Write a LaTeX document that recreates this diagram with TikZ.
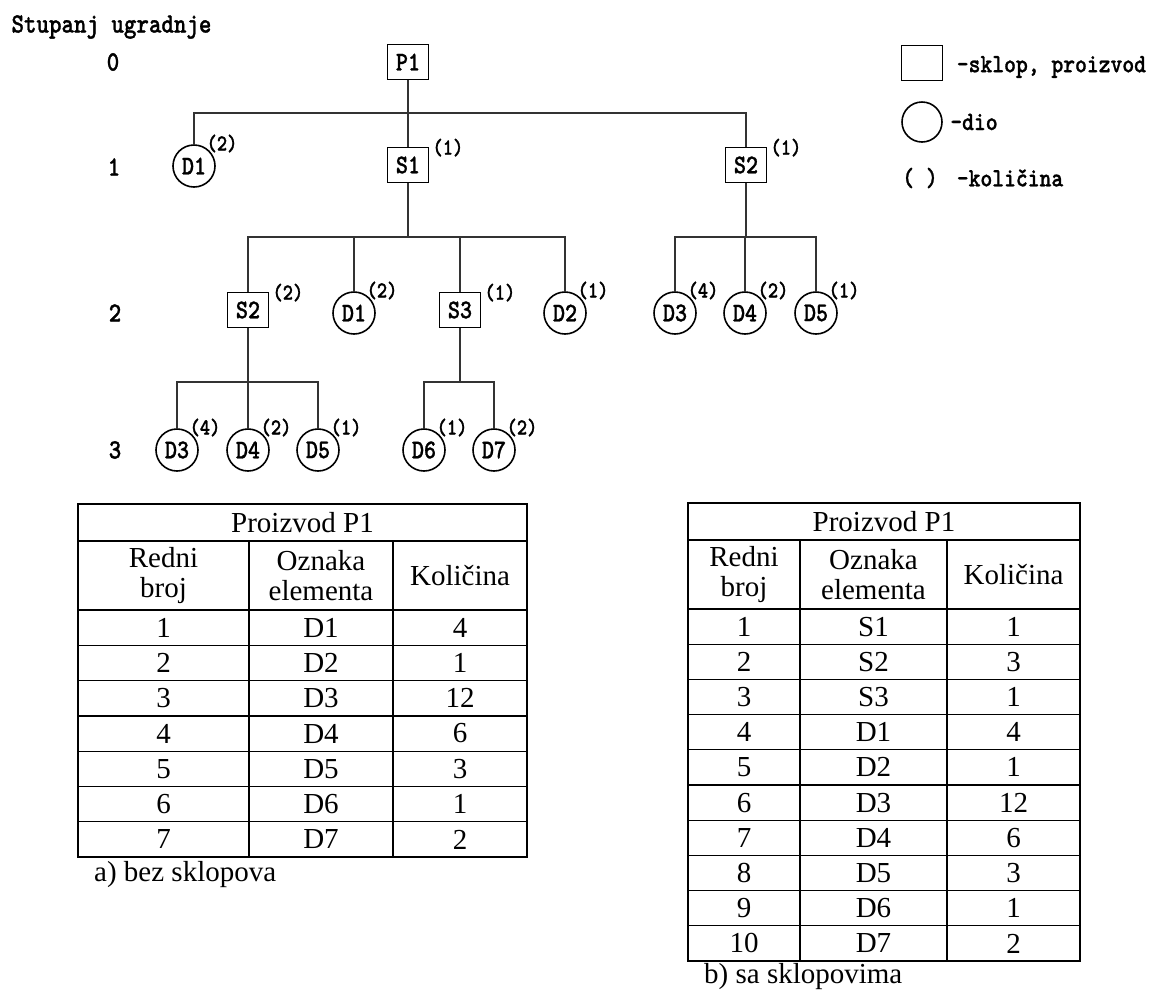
\documentclass[tikz,border=0pt]{standalone}
\usepackage{fontspec}
\setmainfont{Liberation Serif}
\newfontfamily\treefont{lmmonolt10-bold.otf}[FakeBold=1, FakeStretch=0.85]
\usetikzlibrary{positioning, calc}
\newcommand\nodefont{\treefont\fontsize{27}{27}\selectfont}
\newcommand\kolfont{\treefont\fontsize{23}{23}\selectfont}
\newcommand\lvlfont{\treefont\fontsize{28}{28}\selectfont}
\newcommand\legfont{\treefont\fontsize{26.5}{26.5}\selectfont}
\newcommand\cellfont{\fontsize{29}{30}\selectfont}

\begin{document}
\begin{tikzpicture}[
    x=1pt, y=-1pt,
    sklop/.style={draw, line width=1.6pt, minimum width=41pt, minimum height=35pt,
                  inner sep=0pt, font=\nodefont},
    dio/.style={draw, circle, line width=1.6pt, minimum size=42pt,
                inner sep=0pt, font=\nodefont},
    kolc/.style={anchor=south west, inner sep=0pt, xshift=-3pt, yshift=-2pt, font=\kolfont},
    kols/.style={anchor=south west, inner sep=0pt, xshift=3pt, yshift=-10pt, font=\kolfont},
    lvl/.style={font=\lvlfont},
    leg/.style={font=\legfont},
    link/.style={line width=1.2pt, draw=black!80},
    cell/.style={font=\cellfont, align=center, inner sep=0pt},
    thickrule/.style={line width=2.4pt},
    thinrule/.style={line width=1.3pt},
  ]
  \useasboundingbox (0,0) rectangle (1151,994);

  % Levels
  \node[lvl, anchor=west] (stupanj) at (8,27) {Stupanj ugradnje};
  \node[lvl] (lv0) at (113,62) {0};
  \node[lvl] (lv1) at (114,167) {1};
  \node[lvl] (lv2) at (115,313) {2};
  \node[lvl] (lv3) at (115,450) {3};

  % Level 0 and 1
  \node[sklop] (p1) at (408,62) {P1};
  \node[dio, label={[kolc]north east:(2)}] (d1-a) at (194,166) {D1};
  \node[sklop, label={[kols]north east:(1)}] (s1) at (408,165) {S1};
  \node[sklop, label={[kols]north east:(1)}] (s2-a) at (746,165) {S2};

  % Level 2
  \node[sklop, label={[kols]north east:(2)}] (s2-b) at (248,310) {S2};
  \node[dio, label={[kolc]north east:(2)}] (d1-b) at (354,313) {D1};
  \node[sklop, label={[kols]north east:(1)}] (s3) at (460,310) {S3};
  \node[dio, label={[kolc]north east:(1)}] (d2) at (565,313) {D2};
  \node[dio, label={[kolc]north east:(4)}] (d3-a) at (675,313) {D3};
  \node[dio, label={[kolc]north east:(2)}] (d4-a) at (745,313) {D4};
  \node[dio, label={[kolc]north east:(1)}] (d5-a) at (816,313) {D5};

  % Level 3
  \node[dio, label={[kolc]north east:(4)}] (d3-b) at (177,450) {D3};
  \node[dio, label={[kolc]north east:(2)}] (d4-b) at (248,450) {D4};
  \node[dio, label={[kolc]north east:(1)}] (d5-b) at (318,450) {D5};
  \node[dio, label={[kolc]north east:(1)}] (d6) at (424,450) {D6};
  \node[dio, label={[kolc]north east:(2)}] (d7) at (494,450) {D7};

  % Links
  \coordinate (bus0) at (0,113);
  \coordinate (bus1) at (0,237);
  \coordinate (bus2) at (0,382);
  \foreach \c in {d1-a,s1,s2-a}
    \draw[link] (p1.south) |- (\c |- bus0) -- (\c.north);
  \foreach \c in {s2-b,d1-b,s3,d2}
    \draw[link] (s1.south) |- (\c |- bus1) -- (\c.north);
  \foreach \c in {d3-a,d4-a,d5-a}
    \draw[link] (s2-a.south) |- (\c |- bus1) -- (\c.north);
  \foreach \c in {d3-b,d4-b,d5-b}
    \draw[link] (s2-b.south) |- (\c |- bus2) -- (\c.north);
  \foreach \c in {d6,d7}
    \draw[link] (s3.south) |- (\c |- bus2) -- (\c.north);

  % Legend
  \node[sklop] (leg-sklop) at (922,63) {};
  \node[leg, right=10pt of leg-sklop, yshift=-4pt] (leg-sklop-txt) {-sklop, proizvod};
  \node[dio, minimum size=40pt] (leg-dio) at (922,122) {};
  \node[leg, right=4pt of leg-dio] (leg-dio-txt) {-dio};
  \node[leg] (leg-kol) at (920,178) {( )};
  \node[leg, right=12pt of leg-kol] (leg-kol-txt) {-količina};

  % Table a) bez sklopova
  \draw[thickrule] (78,504) rectangle (527,857);
  \draw[thickrule] (78,541) -- (527,541) (78,610) -- (527,610)
    (249,541) -- (249,857) (393,541) -- (393,857);
  \foreach \k in {1,...,6}
    \draw[thinrule] (78,{610+35.29*\k}) -- (527,{610+35.29*\k});
  \node[cell] (ta-title) at (302.5,522.5) {Proizvod P1};
  \node[cell] (ta-h1) at (163.5,575.5) {Redni\\broj};
  \node[cell] (ta-h2) at (321,575.5) {Oznaka\\elementa};
  \node[cell] (ta-h3) at (460,575.5) {Količina};
  \foreach \el/\q [count=\i] in {D1/4,D2/1,D3/12,D4/6,D5/3,D6/1,D7/2} {
    \node[cell] (ta-n\i) at (163.5,{610+35.29*(\i-0.5)}) {\i};
    \node[cell] (ta-e\i) at (321,{610+35.29*(\i-0.5)}) {\el};
    \node[cell] (ta-q\i) at (460,{610+35.29*(\i-0.5)}) {\q};
  }
  \node[cell, anchor=west] (cap-a) at (94,875) {a) bez sklopova};

  % Table b) sa sklopovima
  \draw[thickrule] (688,503) rectangle (1080,961);
  \draw[thickrule] (688,540) -- (1080,540) (688,609) -- (1080,609)
    (800,540) -- (800,961) (947,540) -- (947,961);
  \foreach \k in {1,...,9}
    \draw[thinrule] (688,{609+35.2*\k}) -- (1080,{609+35.2*\k});
  \node[cell] (tb-title) at (884,521.5) {Proizvod P1};
  \node[cell] (tb-h1) at (744,574.5) {Redni\\broj};
  \node[cell] (tb-h2) at (873.5,574.5) {Oznaka\\elementa};
  \node[cell] (tb-h3) at (1013.5,574.5) {Količina};
  \foreach \el/\q [count=\i] in {S1/1,S2/3,S3/1,D1/4,D2/1,D3/12,D4/6,D5/3,D6/1,D7/2} {
    \node[cell] (tb-n\i) at (744,{609+35.2*(\i-0.5)}) {\i};
    \node[cell] (tb-e\i) at (873.5,{609+35.2*(\i-0.5)}) {\el};
    \node[cell] (tb-q\i) at (1013.5,{609+35.2*(\i-0.5)}) {\q};
  }
  \node[cell, anchor=west] (cap-b) at (704,977) {b) sa sklopovima};

\end{tikzpicture}
\end{document}
